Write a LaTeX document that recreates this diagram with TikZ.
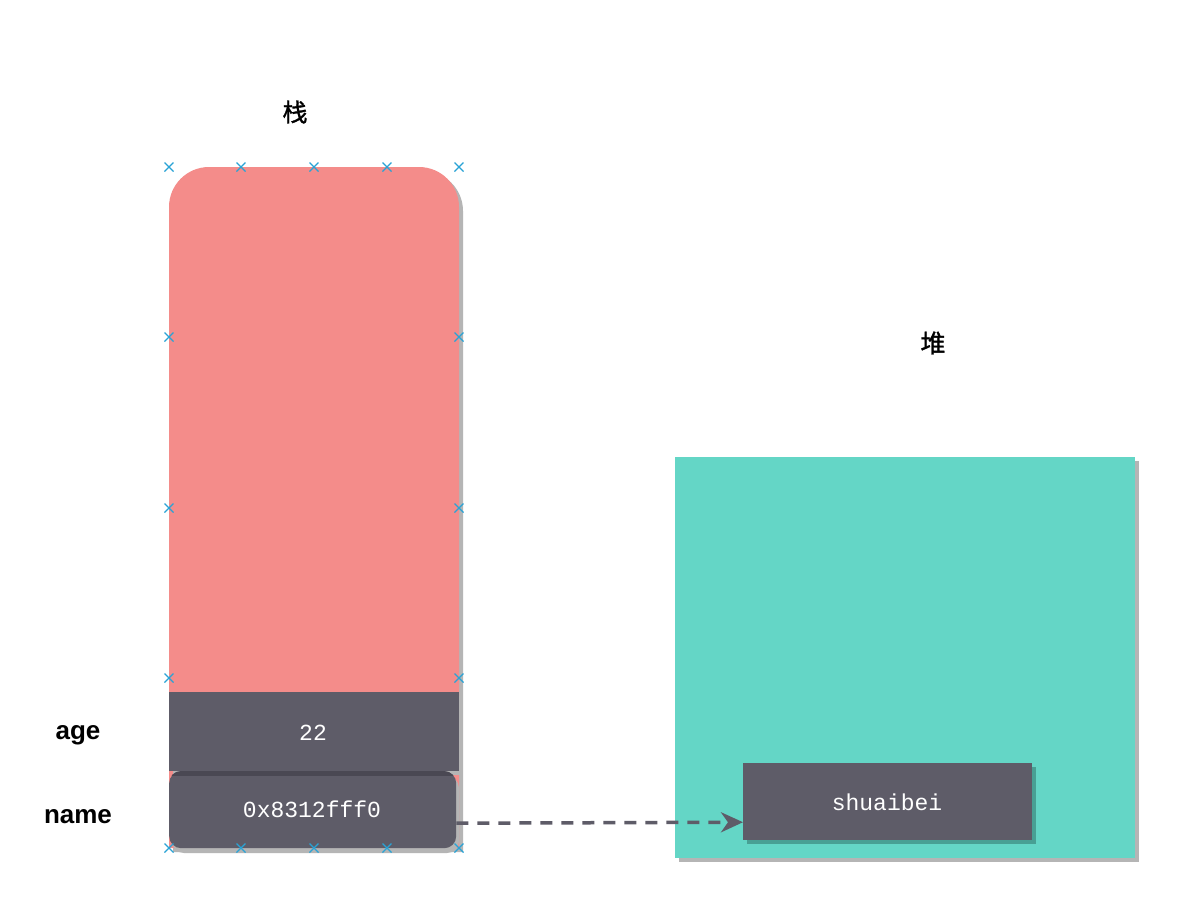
\documentclass[tikz,border=0pt]{standalone}
\usepackage{fontspec}
\setmainfont{Liberation Sans}
\setmonofont{Liberation Mono}
\newfontfamily\cjk[FakeBold=1.3]{Noto Sans CJK SC}
\usetikzlibrary{arrows.meta}
\definecolor{stackred}{RGB}{244,140,138}
\definecolor{heapteal}{RGB}{100,214,198}
\definecolor{slot}{RGB}{94,92,104}
\definecolor{slotdark}{RGB}{74,72,83}
\definecolor{shadowgrey}{RGB}{181,181,181}
\definecolor{tealshade}{RGB}{72,160,148}
\definecolor{handle}{RGB}{41,163,214}
\tikzset{
  slotbox/.style={fill=slot, draw=none, inner sep=0pt, anchor=north west},
  monotext/.style={text=white, inner sep=0pt, anchor=base,
    font=\ttfamily\fontsize{23}{26}\selectfont},
  sidelabel/.style={font=\bfseries\fontsize{26}{30}\selectfont, inner sep=0pt, anchor=base},
  titlelabel/.style={font=\cjk\fontsize{25}{28}\selectfont, inner sep=0pt},
  hnd/.style={draw=handle, line width=1.3pt},
  pointer/.style={draw=slot, line width=3.5pt, dash pattern=on 12pt off 9pt,
    -{Stealth[length=22pt, width=20pt, inset=7pt]}}
}
\begin{document}
\begin{tikzpicture}[x=1pt,y=-1pt]
\useasboundingbox[fill=white] (0,0) rectangle (1190,898);

% titles
\node[titlelabel] (stacktitle) at (295,112) {栈};
\node[titlelabel] (heaptitle) at (933,343) {堆};

% stack body
\fill[shadowgrey] (173,852) [rounded corners=40] -- (173,171) -- (463,171) [sharp corners] -- (463,852) -- cycle;
\fill[stackred] (169,848) [rounded corners=40] -- (169,167) -- (459,167) [sharp corners] -- (459,848) -- cycle;

% age slot
\fill[shadowgrey] (173,696) rectangle (463,775);
\node[slotbox, minimum width=290pt, minimum height=79pt] (age) at (169,692) {};
\node[monotext] (agetext) at (313,740) {22};

% name slot
\fill[shadowgrey, rounded corners=12] (172,776) rectangle (459,853);
\node[slotbox, rounded corners=12, minimum width=287pt, minimum height=77pt] (name) at (169,771) {};
\begin{scope}
  \clip[rounded corners=12] (169,771) rectangle (456,848);
  \fill[slotdark] (169,771) rectangle (463,776);
\end{scope}
\node[monotext] (nametext) at (312,817) {0x8312fff0};

% side labels
\node[sidelabel] (agelabel) at (78,739) {age};
\node[sidelabel] (namelabel) at (78,823) {name};

% selection handles
\foreach \p in {(169,167),(241,167),(314,167),(387,167),(459,167),
                (169,337),(459,337),(169,508),(459,508),(169,678),(459,678),
                (169,848),(241,848),(314,848),(387,848),(459,848)}
  \draw[hnd] \p +(-4.5,-4.5) -- +(4.5,4.5) +(-4.5,4.5) -- +(4.5,-4.5);

% heap
\fill[shadowgrey] (679,461) rectangle (1139,862);
\node[fill=heapteal, inner sep=0pt, anchor=north west, minimum width=460pt, minimum height=401pt] (heap) at (675,457) {};
\fill[tealshade] (747,767) rectangle (1036,844);
\node[slotbox, minimum width=289pt, minimum height=77pt] (obj) at (743,763) {};
\node[monotext] (objtext) at (887,810) {shuaibei};

% pointer
\draw[pointer] ([yshift=-13.5pt]name.east) -- ([yshift=-20.5pt]obj.west);
\end{tikzpicture}
\end{document}
